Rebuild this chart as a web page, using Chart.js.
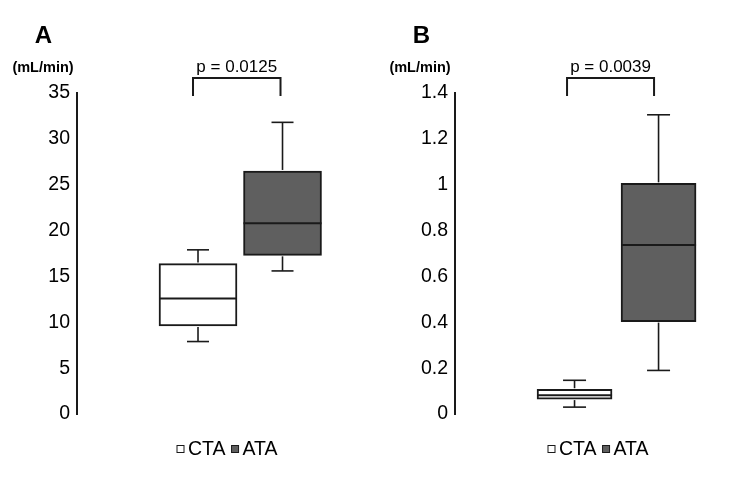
<!DOCTYPE html>
<html><head><meta charset="utf-8">
<script src="https://cdn.jsdelivr.net/npm/chart.js@4.4.0/dist/chart.umd.min.js"></script>
<style>
body{margin:0;background:#fff;width:750px;height:495px;overflow:hidden;position:relative}
.p{position:absolute;top:0;width:375px;height:495px}
</style></head><body>
<div class="p" style="left:0"><canvas id="cA" width="375" height="495"></canvas></div>
<div class="p" style="left:375px"><canvas id="cB" width="375" height="495"></canvas></div>
<script>
// ---- data ----
const categories = ['CTA', 'ATA'];
const aMin = [7.9, 15.6], aQ1 = [9.6, 17.3], aMed = [12.6, 20.8], aQ3 = [16.4, 26.5], aMax = [17.9, 31.8];
const bMin = [0.03, 0.19], bQ1 = [0.065, 0.403], bMed = [0.082, 0.737], bQ3 = [0.108, 1.006], bMax = [0.147, 1.305];
const aTickValues = [0, 5, 10, 15, 20, 25, 30, 35];
const bTickValues = [0, 0.2, 0.4, 0.6, 0.8, 1, 1.2, 1.4];
const pValues = ['p = 0.0125', 'p = 0.0039'];
const panelTitles = ['A', 'B'];
const unitLabel = '(mL/min)';

// ---- style ----
const FONT = "'Liberation Sans', Arial, sans-serif";
const fills = ['#ffffff', '#5f5f5f'];
const INK = '#1a1a1a';

function makePanel(id, title, pText, st, ticks, layout) {
  const datasets = categories.map((c, i) => ({
    label: c,
    data: [{ x: i + 1, y: [st.q1[i], st.q3[i]] }],
    backgroundColor: fills[i],
    borderColor: INK,
    borderWidth: 2,
    borderSkipped: false,
    barThickness: layout.barW,
    grouped: false
  }));
  const line = (ctx, x1, y1, x2, y2) => { ctx.beginPath(); ctx.moveTo(x1, y1); ctx.lineTo(x2, y2); ctx.stroke(); };
  const plugin = {
    id: 'box' + id,
    afterDatasetsDraw(chart) {
      const ctx = chart.ctx, y = chart.scales.y;
      chart.data.datasets.forEach((ds, i) => {
        const el = chart.getDatasetMeta(i).data[0];
        const x = el.x, hw = el.width / 2, cap = layout.cap / 2;
        const pMin = y.getPixelForValue(st.min[i]), pQ1 = y.getPixelForValue(st.q1[i]);
        const pMed = y.getPixelForValue(st.med[i]), pQ3 = y.getPixelForValue(st.q3[i]);
        const pMax = y.getPixelForValue(st.max[i]);
        ctx.save();
        ctx.strokeStyle = INK; ctx.lineWidth = 1.6;
        line(ctx, x, pQ3 - 1, x, pMax); line(ctx, x - cap, pMax, x + cap, pMax);
        line(ctx, x, pQ1 + 1, x, pMin); line(ctx, x - cap, pMin, x + cap, pMin);
        ctx.lineWidth = 2;
        line(ctx, x - hw, pMed, x + hw, pMed);
        ctx.restore();
      });
    },
    afterDraw(chart) {
      const ctx = chart.ctx, xs = chart.scales.x, ca = chart.chartArea;
      ctx.save();
      ctx.fillStyle = '#000'; ctx.strokeStyle = INK;
      // panel title
      ctx.font = 'bold 24px ' + FONT; ctx.textAlign = 'center'; ctx.textBaseline = 'middle';
      ctx.fillText(title, layout.titleX, 36);
      // unit
      ctx.font = 'bold 14.5px ' + FONT;
      ctx.fillText(unitLabel, layout.unitX, 68);
      // bracket
      const x1 = xs.getPixelForValue(1) - layout.brL, x2 = xs.getPixelForValue(2) - layout.brR;
      const yt = ca.top - 15, yb = ca.top + 3;
      ctx.lineWidth = 2;
      ctx.beginPath(); ctx.moveTo(x1, yb); ctx.lineTo(x1, yt); ctx.lineTo(x2, yt); ctx.lineTo(x2, yb); ctx.stroke();
      ctx.font = '17px ' + FONT;
      ctx.fillText(pText, (x1 + x2) / 2, 67);
      // legend
      ctx.textAlign = 'left';
      ctx.font = '19.5px ' + FONT;
      let lx = layout.legX;
      categories.forEach((c, i) => {
        ctx.fillStyle = fills[i]; ctx.fillRect(lx, 445.5, 7, 7);
        ctx.lineWidth = 1; ctx.strokeStyle = INK; ctx.strokeRect(lx, 445.5, 7, 7);
        ctx.fillStyle = '#000';
        ctx.fillText(c, lx + 11, 450);
        lx += 11 + ctx.measureText(c).width + 6;
      });
      ctx.restore();
    }
  };
  return new Chart(document.getElementById(id), {
    type: 'bar',
    data: { datasets },
    options: {
      responsive: false, animation: false, devicePixelRatio: 1,
      layout: { padding: { top: 93, bottom: 81, left: 0, right: 15 } },
      plugins: { legend: { display: false }, tooltip: { enabled: false } },
      scales: {
        x: { type: 'linear', display: false, offset: false, min: layout.xMin, max: layout.xMax },
        y: {
          min: ticks[0], max: ticks[ticks.length - 1],
          afterBuildTicks: s => { s.ticks = ticks.map(v => ({ value: v })); },
          afterFit: s => { s.width = layout.axisX; },
          grid: { display: false, drawTicks: false },
          border: { display: true, color: INK, width: 2 },
          ticks: { color: '#000', padding: layout.tickPad, font: { size: 19.5, family: FONT },
                   callback: v => String(Math.round(v * 10) / 10) }
        }
      }
    },
    plugins: [plugin]
  });
}

makePanel('cA', panelTitles[0], pValues[0],
  { min: aMin, q1: aQ1, med: aMed, q3: aQ3, max: aMax }, aTickValues,
  { axisX: 77, xMin: -0.432, xMax: 2.917, barW: 78, cap: 22, tickPad: 7, titleX: 43.5, unitX: 43, brL: 5, brR: 2, legX: 177 });
makePanel('cB', panelTitles[1], pValues[1],
  { min: bMin, q1: bQ1, med: bMed, q3: bQ3, max: bMax }, bTickValues,
  { axisX: 80, xMin: -0.423, xMax: 2.91, barW: 75, cap: 23, tickPad: 7, titleX: 46.5, unitX: 45, brL: 7.5, brR: 4.5, legX: 173 });
</script>
</body></html>
